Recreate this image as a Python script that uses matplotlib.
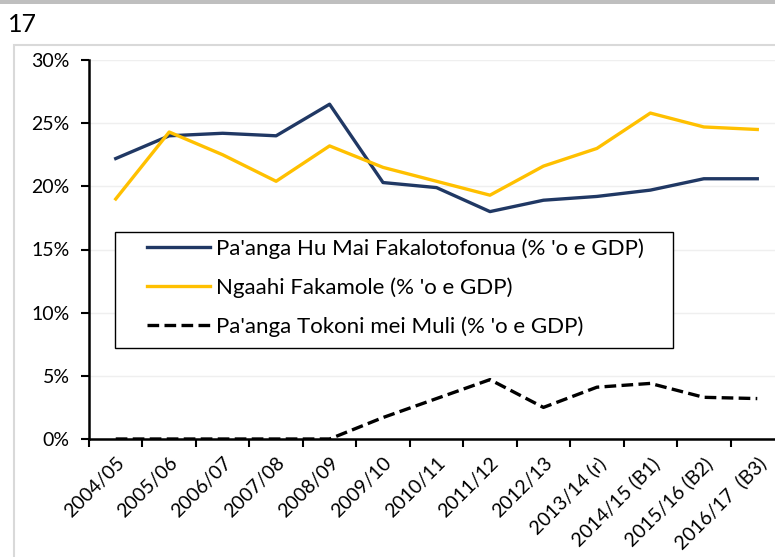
import matplotlib
matplotlib.use("Agg")
import matplotlib.pyplot as plt
from matplotlib.patches import Rectangle
import numpy as np

categories = ["2004/05", "2005/06", "2006/07", "2007/08", "2008/09", "2009/10",
              "2010/11", "2011/12", "2012/13", "2013/14 (r)", "2014/15 (B1)",
              "2015/16 (B2)", "2016/17  (B3)"]
remittances = [22.2, 24.0, 24.2, 24.0, 26.5, 20.3, 19.9, 18.0, 18.9, 19.2, 19.7, 20.6, 20.6]
imports = [19.0, 24.3, 22.5, 20.4, 23.2, 21.5, 20.4, 19.3, 21.6, 23.0, 25.8, 24.7, 24.5]
aid = [0.0, 0.0, 0.0, 0.0, 0.0, 1.7, 3.2, 4.7, 2.5, 4.1, 4.4, 3.3, 3.2]
labels = ["Pa'anga Hu Mai Fakalotofonua (% 'o e GDP)",
          "Ngaahi Fakamole (% 'o e GDP)",
          "Pa'anga Tokoni mei Muli (% 'o e GDP)"]

plt.rcParams['font.family'] = ['Lato', 'DejaVu Sans']

W, H = 775, 557
fig = plt.figure(figsize=(W/100, H/100), dpi=100)

# top gray bar and chart border
fig.patches.append(Rectangle((0, 1 - 4/H), 1, 4/H, transform=fig.transFigure,
                             facecolor="#bfbfbf", edgecolor="none"))
fig.patches.append(Rectangle((14/W, -0.1), 1, 1 - 45/H + 0.1, transform=fig.transFigure,
                             facecolor="none", edgecolor="#d9d9d9", linewidth=1.5))
fig.text(8/W, 1 - 25/H, "17", fontsize=18, va="center", ha="left")

left, right, top, bottom = 89, 784, 60, 439
ax = fig.add_axes([left/W, 1 - bottom/H, (right-left)/W, (bottom-top)/H])
ax.set_facecolor("none")

x = np.arange(len(categories))
ax.plot(x, remittances, color="#203864", lw=2.4, label=labels[0])
ax.plot(x, imports, color="#ffc000", lw=2.4, label=labels[1])
ax.plot(x, aid, color="black", lw=2.4, ls=(0, (3.5, 1.6)), label=labels[2])

ax.set_xlim(-0.5, len(categories) - 0.5)
ax.set_ylim(0, 30)
ax.set_yticks(np.arange(0, 31, 5))
ax.set_yticklabels([f"{v}%" for v in range(0, 31, 5)], fontsize=14)
ax.yaxis.grid(True, color="#efefef", lw=1)
ax.set_axisbelow(True)

ax.set_xticks(x)
ax.set_xticklabels(categories, rotation=45, ha="right", rotation_mode="anchor", fontsize=14)
ax.set_xticks(np.arange(-0.5, len(categories), 1), minor=True)
ax.tick_params(axis="x", which="major", length=0, pad=11)
ax.tick_params(axis="x", which="minor", length=6, width=1.5, direction="out")
ax.tick_params(axis="y", length=6, width=1.5, direction="out", pad=8)

for s in ["top", "right"]:
    ax.spines[s].set_visible(False)
for s in ["left", "bottom"]:
    ax.spines[s].set_linewidth(1.8)

# legend box (drawn as a frame in pixel positions) and legend entries
def px_to_ax(px, py):
    return (px - left) / (right - left), (bottom - py) / (bottom - top)

bx0, by0 = px_to_ax(115, 348)
bx1, by1 = px_to_ax(673, 232)
ax.add_patch(Rectangle((bx0, by0), bx1 - bx0, by1 - by0, transform=ax.transAxes,
                       facecolor="white", edgecolor="black", lw=1.0, zorder=5))
lx, ly = px_to_ax(143, 234)
leg = ax.legend(loc="upper left", bbox_to_anchor=(lx, ly),
                fontsize=16, frameon=False, handlelength=2.8,
                borderpad=0.2, labelspacing=0.82, handletextpad=0.3,
                borderaxespad=0)
leg.set_zorder(6)

fig.savefig("out.png", dpi=100)
